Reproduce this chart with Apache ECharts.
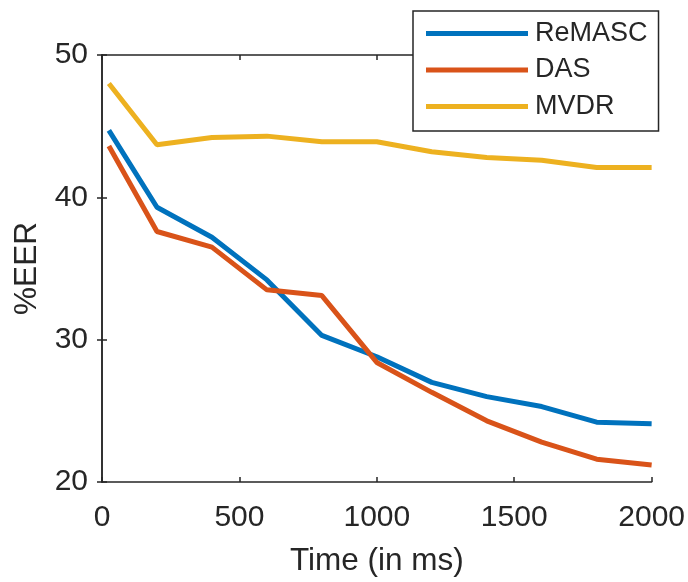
<!DOCTYPE html>
<html>
<head>
<meta charset="utf-8">
<script src="https://cdn.jsdelivr.net/npm/echarts@6/dist/echarts.min.js"></script>
<style>
  html, body { margin: 0; padding: 0; background: #fff; }
  #chart { width: 688px; height: 582px; }
</style>
</head>
<body>
<div id="chart"></div>
<script>
// time points (ms) and %EER per method
const timeMs = [25, 200, 400, 600, 800, 1000, 1200, 1400, 1600, 1800, 2000];
const remasc = [44.7, 39.3, 37.2, 34.2, 30.3, 28.8, 27.0, 26.0, 25.3, 24.2, 24.1];
const das    = [43.6, 37.6, 36.5, 33.5, 33.1, 28.4, 26.3, 24.3, 22.8, 21.6, 21.2];
const mvdr   = [48.0, 43.7, 44.2, 44.3, 43.9, 43.9, 43.2, 42.8, 42.6, 42.1, 42.1];
const xTicks = [0, 500, 1000, 1500, 2000];
const yTicks = [20, 30, 40, 50];

const font = "'Liberation Sans', Arial, sans-serif";
const axisColor = '#262626';

const pairs = (ys) => timeMs.map((t, i) => [t, ys[i]]);

const frameAxis = {
    axisLine: { show: true, lineStyle: { color: axisColor, width: 1.5 } },
    axisTick: { show: true, inside: true, length: 5, lineStyle: { color: axisColor, width: 1.5 } },
    splitLine: { show: false }
};

const chart = echarts.init(document.getElementById('chart'));
chart.setOption({
    animation: false,
    backgroundColor: '#fff',
    grid: { left: 102, right: 36, top: 55, bottom: 100 },
    xAxis: [
        Object.assign({
            type: 'value', min: 0, max: 2000, interval: 500,
            name: 'Time (in ms)', nameLocation: 'middle', nameGap: 63,
            nameTextStyle: { fontFamily: font, fontSize: 31.5, color: axisColor },
            axisLabel: {
                fontFamily: font, fontSize: 30, color: axisColor, margin: 21,
                formatter: (v) => xTicks.includes(v) ? String(v) : ''
            }
        }, frameAxis),
        Object.assign({
            type: 'value', min: 0, max: 2000, interval: 500, position: 'top',
            axisLabel: { show: false }
        }, frameAxis)
    ],
    yAxis: [
        Object.assign({
            type: 'value', min: 20, max: 50, interval: 10,
            name: '%EER', nameLocation: 'middle', nameGap: 58,
            nameTextStyle: { fontFamily: font, fontSize: 31.5, color: axisColor },
            axisLabel: {
                fontFamily: font, fontSize: 30, color: axisColor, margin: 14,
                formatter: (v) => yTicks.includes(v) ? String(v) : ''
            }
        }, frameAxis),
        Object.assign({
            type: 'value', min: 20, max: 50, interval: 10, position: 'right',
            axisLabel: { show: false }
        }, frameAxis)
    ],
    legend: {
        orient: 'vertical',
        left: 413, top: 11,
        padding: [9, 11, 11, 13],
        itemGap: 9.5,
        itemWidth: 102, itemHeight: 5,
        icon: 'rect',
        backgroundColor: '#fff',
        borderColor: axisColor, borderWidth: 1.5, borderRadius: 0,
        textStyle: { fontFamily: font, fontSize: 27, color: axisColor, lineHeight: 27, padding: [0, 0, 0, 2] },
        data: ['ReMASC', 'DAS', 'MVDR']
    },
    series: [
        { name: 'ReMASC', type: 'line', data: pairs(remasc), showSymbol: false,
          color: '#0072BD', lineStyle: { width: 5, color: '#0072BD' } },
        { name: 'DAS', type: 'line', data: pairs(das), showSymbol: false,
          color: '#D95319', lineStyle: { width: 5, color: '#D95319' } },
        { name: 'MVDR', type: 'line', data: pairs(mvdr), showSymbol: false,
          color: '#EDB120', lineStyle: { width: 5, color: '#EDB120' } }
    ]
});
</script>
</body>
</html>
